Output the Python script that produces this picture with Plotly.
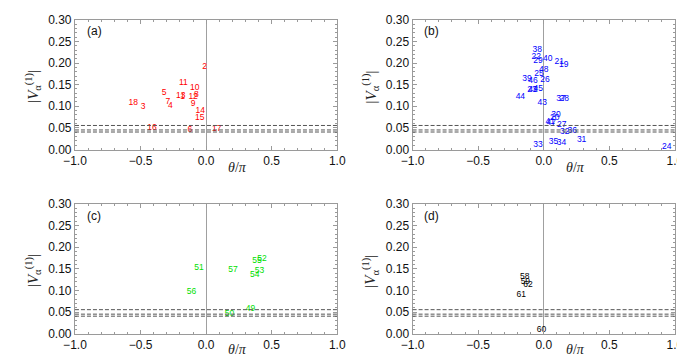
import plotly.graph_objects as go

W, H = 685, 357

# ---------------- data ----------------
a_labels = [str(i) for i in range(1, 19)]
a_theta = [-0.18, -0.012, -0.481, -0.272, -0.321, -0.123, -0.291, -0.074, -0.099,
           -0.086, -0.173, -0.099, -0.193, -0.044, -0.049, -0.412, 0.081, -0.556]
a_v = [0.121, 0.190, 0.099, 0.100, 0.130, 0.046, 0.111, 0.127, 0.105,
       0.142, 0.153, 0.121, 0.124, 0.090, 0.073, 0.050, 0.048, 0.107]

b_labels = [str(i) for i in range(19, 49)]
b_theta = [0.153, 0.084, 0.119, -0.057, -0.090, 0.938, -0.036, 0.010, 0.138, 0.156,
           -0.044, 0.094, 0.289, 0.160, -0.044, 0.136, 0.074, 0.217, 0.131, -0.049,
           -0.128, 0.030, 0.050, -0.082, -0.012, -0.178, -0.042, -0.081, 0.057, 0.000]
b_v = [0.195, 0.074, 0.202, 0.215, 0.139, 0.005, 0.176, 0.161, 0.056, 0.118,
       0.204, 0.079, 0.023, 0.041, 0.011, 0.016, 0.018, 0.042, 0.118, 0.231,
       0.163, 0.209, 0.064, 0.137, 0.107, 0.122, 0.140, 0.159, 0.061, 0.184]

c_labels = [str(i) for i in range(49, 58)]
c_theta = [0.338, 0.178, -0.054, 0.427, 0.407, 0.370, 0.388, -0.111, 0.205]
c_v = [0.057, 0.046, 0.152, 0.172, 0.146, 0.137, 0.169, 0.096, 0.147]

d_labels = [str(i) for i in range(58, 63)]
d_theta = [-0.145, -0.140, -0.017, -0.172, -0.120]
d_v = [0.131, 0.119, 0.009, 0.089, 0.113]

thresholds = [0.0556, 0.0452, 0.0405]
x_ticks = [-1.0, -0.5, 0.0, 0.5, 1.0]
y_ticks = [0.00, 0.05, 0.10, 0.15, 0.20, 0.25, 0.30]
panel_names = ["(a)", "(b)", "(c)", "(d)"]
colors = ["#ff0000", "#0000ff", "#00e000", "#000000"]

# ---------------- layout helpers ----------------
def px_x(p):
    return p / W

def px_y(p):
    return 1 - p / H

frames = [  # left, right, top, bottom in pixels
    (56.7, 327.3, 5, 140),
    (405.0, 675.6, 5, 140),
    (56.7, 327.3, 196.7, 331.7),
    (405.0, 675.6, 196.7, 331.7),
]
title_drop = [19, 19, 16, 16]

fig = go.Figure()
data = [(a_theta, a_v, a_labels), (b_theta, b_v, b_labels),
        (c_theta, c_v, c_labels), (d_theta, d_v, d_labels)]

frame_col = "#9a9a9a"
tick_font = dict(family="Liberation Sans, Arial, sans-serif", size=12, color="#111111")

for k, ((xs, ys, labs), (l, r, t, b)) in enumerate(zip(data, frames)):
    n = "" if k == 0 else str(k + 1)
    xa, ya = "x" + n, "y" + n
    fig.add_trace(go.Scatter(
        x=xs, y=ys, text=labs, mode="text", xaxis=xa, yaxis=ya,
        textfont=dict(family="Liberation Sans, Arial, sans-serif", size=8.5, color=colors[k]),
        textposition="middle center", showlegend=False, cliponaxis=False,
        hoverinfo="skip"))
    fig.update_layout(**{
        "xaxis" + n: dict(
            domain=[px_x(l), px_x(r)], anchor=ya, range=[-1, 1],
            tickvals=x_ticks, tickformat=".1f", ticks="inside", ticklen=4,
            tickcolor=frame_col, showline=True, linecolor=frame_col, linewidth=1,
            mirror="allticks", showgrid=False, zeroline=True,
            zerolinecolor="#a0a0a0", zerolinewidth=1, tickfont=tick_font,
            minor=dict(ticks="inside", dtick=0.1, ticklen=2, tickcolor=frame_col, showgrid=False),
        ),
        "yaxis" + n: dict(
            domain=[px_y(b), px_y(t)], anchor=xa, range=[0, 0.3],
            tickvals=y_ticks, tickformat=".2f", ticks="inside", ticklen=4,
            tickcolor=frame_col, showline=True, linecolor=frame_col, linewidth=1,
            mirror="allticks", showgrid=False, zeroline=False, tickfont=tick_font,
            minor=dict(ticks="inside", dtick=0.01, ticklen=2, tickcolor=frame_col, showgrid=False),
        ),
    })
    for th in thresholds:
        fig.add_shape(type="line", xref=xa + " domain", yref=ya, x0=0, x1=1, y0=th, y1=th,
                      line=dict(color="#555555", width=1, dash="4px,2px"))
    # panel letter
    fig.add_annotation(x=px_x(l + 10), y=px_y(t + 12), xref="paper", yref="paper",
                       text=panel_names[k], showarrow=False, xanchor="left", yanchor="middle",
                       font=dict(family="Liberation Sans, Arial, sans-serif", size=12, color="#111111"))
    # x title
    fig.add_annotation(x=px_x(l + 168), y=px_y(b + title_drop[k]), xref="paper", yref="paper",
                       text="<i>θ</i>/<i>π</i>", showarrow=False, xanchor="center", yanchor="middle",
                       font=dict(family="Liberation Serif, serif", size=14, color="#222222"))
    # y title
    fig.add_annotation(x=px_x(l - 44), y=px_y((t + b) / 2 + 2), xref="paper", yref="paper",
                       text="|<i>V</i><sub>α</sub><sup>(1)</sup>|", showarrow=False, textangle=-90,
                       xanchor="center", yanchor="middle",
                       font=dict(family="Liberation Serif, serif", size=15, color="#222222"))

fig.update_layout(width=W, height=H, margin=dict(l=0, r=0, t=0, b=0),
                  paper_bgcolor="white", plot_bgcolor="white")
fig.write_html("out.html")
